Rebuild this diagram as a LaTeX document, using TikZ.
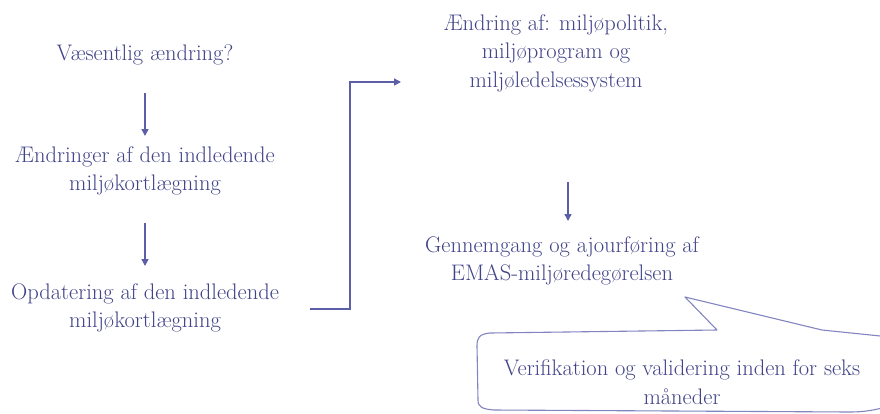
\documentclass[tikz,border=0pt]{standalone}
\usetikzlibrary{arrows.meta}
\definecolor{txt}{HTML}{404388}
\definecolor{ln}{HTML}{5C5FA8}
\definecolor{bub}{HTML}{8285C0}
\begin{document}
\begin{tikzpicture}[x=1pt,y=-1pt,
  lbl/.style={text=txt, align=center, font=\fontsize{22.5}{28.5}\selectfont, inner sep=0pt},
  arr/.style={draw=ln, line width=1.4pt, -{Triangle[length=7pt,width=7pt]}}]
\clip (0,0) rectangle (880,413);
\useasboundingbox (0,0) rectangle (880,413);
\fill[white] (0,0) rectangle (880,413);

\node[lbl] (n1) at (145,55) {Væsentlig ændring?};
\node[lbl] (n2) at (145,171) {Ændringer af den indledende\\miljøkortlægning};
\node[lbl] (n3) at (145,308) {Opdatering af den indledende\\miljøkortlægning};
\node[lbl] (n4) at (556,53) {Ændring af: miljøpolitik,\\miljøprogram og\\miljøledelsessystem};
\node[lbl] (n5) at (562,261) {Gennemgang og ajourføring af\\EMAS-miljøredegørelsen};
\node[lbl] (n6) at (682,382) {Verifikation og validering inden for seks\\måneder};

\coordinate (a1s) at (145,93);  \coordinate (a1e) at (145,136);
\coordinate (a2s) at (145,223); \coordinate (a2e) at (145,266);
\coordinate (a3s) at (568,182); \coordinate (a3e) at (568,221);
\draw[arr] (a1s) -- (a1e);
\draw[arr] (a2s) -- (a2e);
\draw[arr] (a3s) -- (a3e);

\coordinate (e1) at (310,309);
\coordinate (e2) at (350,309);
\coordinate (e3) at (401,82);
\draw[arr] (e1) -- (e2) |- (e3);

\draw[bub, line width=1.1pt, line join=round]
  (890,337) -- (822,330) -- (685,297) -- (717,330) -- (490,333)
  .. controls (479,334) and (477,338) .. (477,346)
  -- (478,400) .. controls (478,407) and (482,409) .. (494,410)
  -- (850,412) .. controls (865,412) and (875,410) .. (890,406);
\end{tikzpicture}
\end{document}
